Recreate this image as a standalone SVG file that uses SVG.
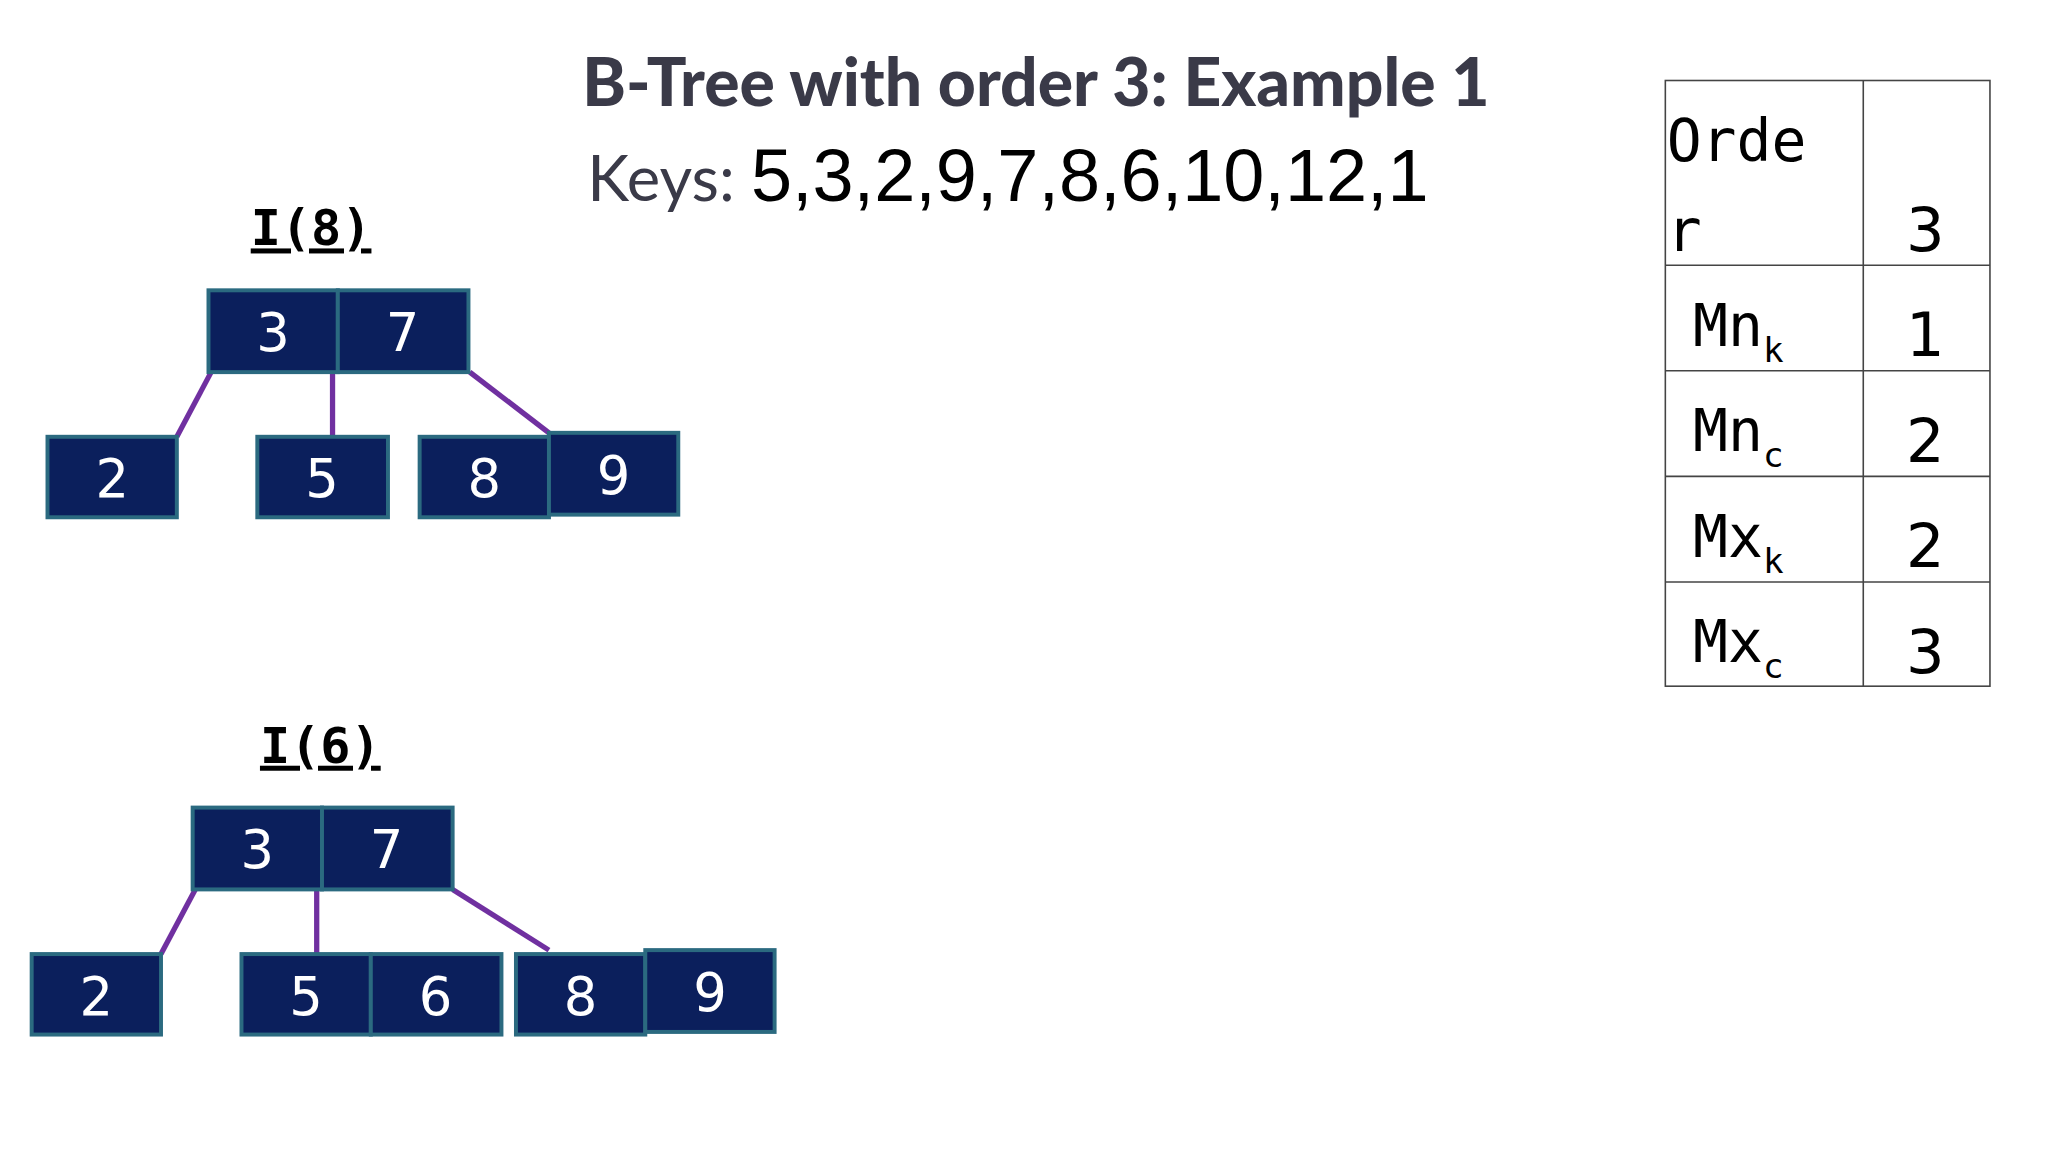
<svg xmlns="http://www.w3.org/2000/svg" width="2048" height="1152" viewBox="0 0 2048 1152">
<style>
.b{fill:#0b1f5c;stroke:#2b6a80;stroke-width:3}
.d{fill:#fff;font-family:"DejaVu Sans",sans-serif;font-size:40px;text-anchor:middle}
.c{stroke:#7030a0;stroke-width:4;fill:none}
.lbl{font-family:"DejaVu Sans Mono",monospace;font-weight:bold;font-size:38px;text-decoration:underline;fill:#000}
.t{font-family:"DejaVu Sans Mono",monospace;font-size:44px;fill:#000}
.v{font-family:"DejaVu Sans",sans-serif;font-size:46px;fill:#000;text-anchor:middle}
.g{stroke:#444;stroke-width:1.2;fill:none}
</style>
<rect width="2048" height="1152" fill="#fff"/>
<g transform="scale(1.3196)">
<g id="title">
<text x="785" y="80" text-anchor="middle" font-family="Lato, sans-serif" font-weight="900" font-size="50" fill="#3a3a48">B-Tree with order 3: Example 1</text>
<text x="445" y="152" font-family="Lato, sans-serif" font-size="48" fill="#3a3a48">Keys: <tspan font-family="Liberation Sans, sans-serif" font-size="56" fill="#000">5,3,2,9,7,8,6,10,12,1</tspan></text>
</g>
<g id="connectors">
<line class="c" x1="160" y1="282" x2="134" y2="331"/>
<line class="c" x1="252" y1="282" x2="252" y2="331"/>
<line class="c" x1="356" y1="282" x2="416" y2="328"/>
<line class="c" x1="148" y1="674" x2="122" y2="723"/>
<line class="c" x1="240" y1="674" x2="240" y2="723"/>
<line class="c" x1="343" y1="674" x2="416" y2="720"/>
</g>
<g id="tree1">
<text class="lbl" x="190" y="186">I(8)</text>
<g id="t1root"><rect class="b" x="158" y="220" width="98" height="62"/><rect class="b" x="256" y="220" width="99" height="62"/><text class="d" x="207" y="266">3</text><text class="d" x="305" y="266">7</text></g>
<g id="t1n2"><rect class="b" x="36" y="331" width="98" height="61"/><text class="d" x="85" y="377">2</text></g>
<g id="t1n5"><rect class="b" x="195" y="331" width="99" height="61"/><text class="d" x="244" y="377">5</text></g>
<g id="t1n89"><rect class="b" x="318" y="331" width="98" height="61"/><rect class="b" x="416" y="328" width="98" height="62"/><text class="d" x="367" y="377">8</text><text class="d" x="465" y="374">9</text></g>
</g>
<g id="tree2">
<text class="lbl" x="197" y="578">I(6)</text>
<g id="t2root"><rect class="b" x="146" y="612" width="98" height="62"/><rect class="b" x="244" y="612" width="99" height="62"/><text class="d" x="195" y="658">3</text><text class="d" x="293" y="658">7</text></g>
<g id="t2n2"><rect class="b" x="24" y="723" width="98" height="61"/><text class="d" x="73" y="769">2</text></g>
<g id="t2n56"><rect class="b" x="183" y="723" width="98" height="61"/><rect class="b" x="281" y="723" width="99" height="61"/><text class="d" x="232" y="769">5</text><text class="d" x="330" y="769">6</text></g>
<g id="t2n89"><rect class="b" x="391" y="723" width="98" height="61"/><rect class="b" x="489" y="720" width="98" height="62"/><text class="d" x="440" y="769">8</text><text class="d" x="538" y="766">9</text></g>
</g>
<g id="table">
<rect class="g" x="1262" y="61" width="246" height="459"/>
<line class="g" x1="1412" y1="61" x2="1412" y2="520"/>
<line class="g" x1="1262" y1="201" x2="1508" y2="201"/>
<line class="g" x1="1262" y1="281" x2="1508" y2="281"/>
<line class="g" x1="1262" y1="361" x2="1508" y2="361"/>
<line class="g" x1="1262" y1="441" x2="1508" y2="441"/>
<text class="t" x="1263" y="122">Orde</text><text class="t" x="1263" y="190">r</text>
<text class="t" x="1283" y="262">Mn<tspan font-size="26" dy="12">k</tspan></text>
<text class="t" x="1283" y="342">Mn<tspan font-size="26" dy="12">c</tspan></text>
<text class="t" x="1283" y="422">Mx<tspan font-size="26" dy="12">k</tspan></text>
<text class="t" x="1283" y="502">Mx<tspan font-size="26" dy="12">c</tspan></text>
<text class="v" x="1459" y="190">3</text>
<text class="v" x="1459" y="270">1</text>
<text class="v" x="1459" y="350">2</text>
<text class="v" x="1459" y="430">2</text>
<text class="v" x="1459" y="510">3</text>
</g>
</g>
</svg>
